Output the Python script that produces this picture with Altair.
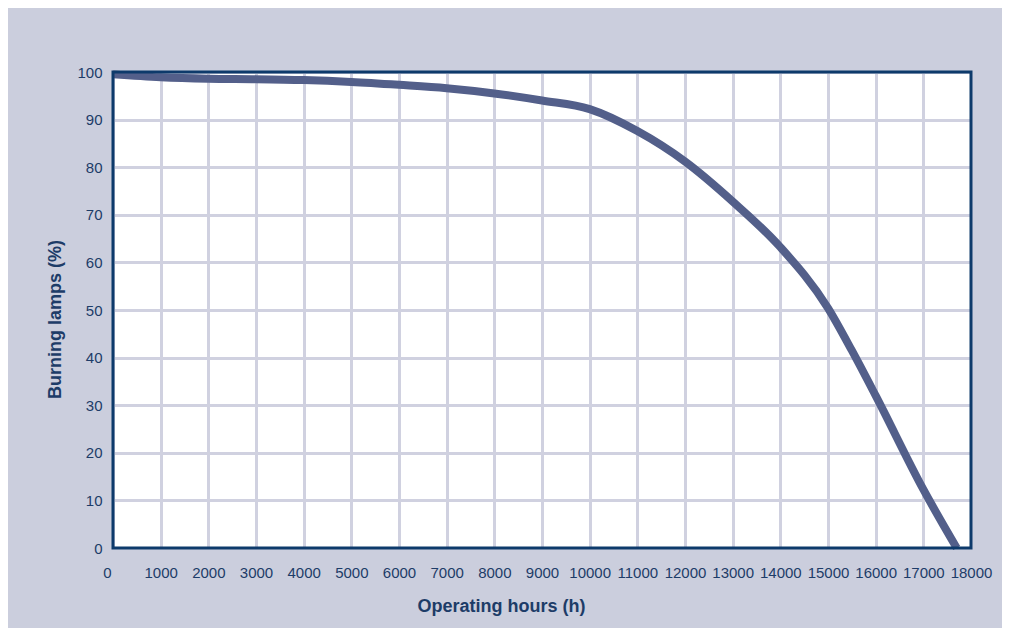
import altair as alt
import pandas as pd

hours = [0, 1000, 2000, 3000, 4000, 5000, 6000, 7000, 8000, 9000, 10000,
         11000, 12000, 13000, 14000, 15000, 15500, 16000, 17000, 17700]
burning = [99.5, 98.9, 98.6, 98.5, 98.3, 97.9, 97.3, 96.6, 95.5, 94.0, 92.2,
           87.6, 81.2, 72.8, 63.2, 50.4, 41.5, 32.0, 12.3, 0.0]

x_ticks = list(range(0, 18001, 1000))
y_ticks = list(range(0, 101, 10))

df = pd.DataFrame({"hours": hours, "burning": burning})

NAVY = "#0d3a6b"
TEXT = "#1d3c68"
GRID = "#d0d1e0"
LINE = "#535f8a"
BG = "#cbcedd"
FONT = "Liberation Sans, Arial, Helvetica, sans-serif"

line = alt.Chart(df).mark_line(
    color=LINE, strokeWidth=8, interpolate="monotone", strokeCap="butt"
).encode(
    x=alt.X(
        "hours:Q",
        scale=alt.Scale(domain=[0, 18000], nice=False, zero=False),
        axis=alt.Axis(
            values=x_ticks, format="d", title="Operating hours (h)",
            grid=True, gridColor=GRID, gridWidth=3, gridOpacity=1,
            ticks=False, tickSize=0, domain=False,
            labelFont=FONT, labelFontSize=15, labelColor=TEXT,
            labelPadding=17, labelBaseline="top", labelFlush=False,
            labelOverlap=False,
            labelOffset=alt.expr("datum.value == 0 ? -6 : 0"),
            titleFont=FONT, titleFontSize=18, titleFontWeight="bold",
            titleColor=TEXT, titleX=388, titleY=63, titleBaseline="alphabetic",
            titleAlign="center",
        ),
    ),
    y=alt.Y(
        "burning:Q",
        scale=alt.Scale(domain=[0, 100], nice=False),
        axis=alt.Axis(
            values=y_ticks, title="Burning lamps (%)",
            grid=True, gridColor=GRID, gridWidth=3, gridOpacity=1,
            ticks=False, tickSize=0, domain=False,
            labelFont=FONT, labelFontSize=15, labelColor=TEXT,
            labelPadding=11, labelFlush=False, labelOverlap=False,
            titleFont=FONT, titleFontSize=18, titleFontWeight="bold",
            titleColor=TEXT, titleX=-53, titleY=247, titleBaseline="alphabetic",
            titleAlign="center", titleAngle=-90,
        ),
    ),
)

border = alt.Chart(pd.DataFrame({"a": [0]})).mark_rect(
    fill=None, stroke=NAVY, strokeWidth=3, filled=False
).encode(
    x=alt.value(0), x2=alt.value(858), y=alt.value(0), y2=alt.value(476)
)

chart = alt.layer(line, border).properties(
    width=858, height=476,
    autosize=alt.AutoSizeParams(type="none"),
    padding={"left": 105, "top": 64, "right": 31, "bottom": 80},
    background=BG,
).configure_view(
    fill="white", stroke=None
)

chart.save("out.html", embed_options={"renderer": "svg", "actions": False})
